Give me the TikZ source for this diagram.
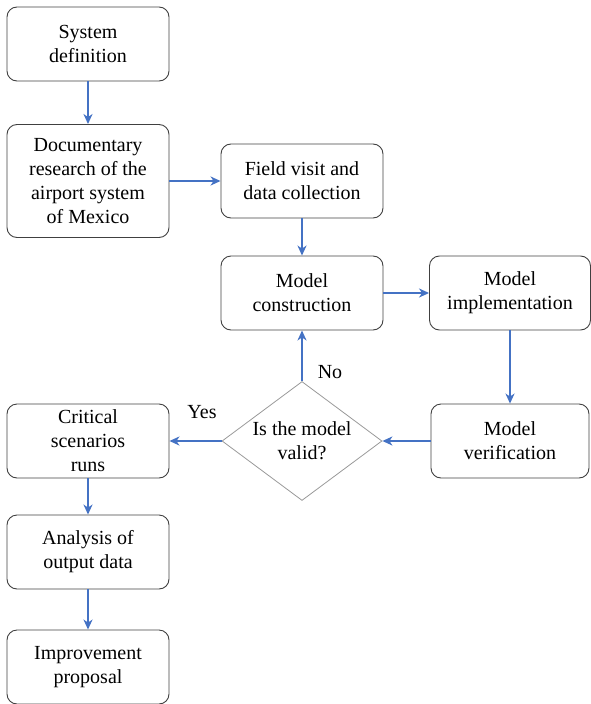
\documentclass[tikz,border=0pt]{standalone}
\usepackage{fontspec}
\setmainfont{Liberation Serif}
\newfontfamily\boxfont{Liberation Serif}
\newcommand{\boxsize}{\boxfont\fontsize{20}{24}\selectfont}
\usetikzlibrary{arrows.meta,positioning,shapes.geometric}
\definecolor{pilblue}{RGB}{68,114,196}
\tikzset{
	%Define standard arrow tip
	>={Stealth[length=10pt,width=9pt,inset=3pt]},
	%Define style for boxes
	mylabel/.style={font=\boxsize},
	punkt/.style={
		rectangle,
		rounded corners=10pt,
		draw=black!75, line width=0.9pt,
		minimum width=162pt,
		minimum height=74pt,
		align=center,
		font=\boxsize},
	raute/.style={
		diamond,
		draw=black!40, line width=0.8pt,
		minimum width=160pt,
		minimum height=119pt,
		inner sep=0pt},
	% Define arrow style
	pil/.style={
		->,
		draw=pilblue,
		line width=1.6pt}
}
\begin{document}
\begin{tikzpicture}[x=1pt,y=-1pt]
	\useasboundingbox (0,0) rectangle (590,704);
	% node System definition
	\node[punkt] (sysdef) at (88,44) {System\\definition};
	% node Documentary research
	\node[punkt, minimum height=113pt] (docres) at (88,181) {Documentary\\research of the\\airport system\\of Mexico};
	% node Field visit
	\node[punkt] (field) at (302,181) {Field visit and\\data collection};
	% node Model construction
	\node[punkt] (constr) at (302,293) {Model\\construction};
	% node Model implementation
	\node[punkt, minimum width=161pt] (impl) at (510,293) {Model\\implementation};
	% node Model verification
	\node[punkt, minimum width=158pt] (verif) at (510,441) {Model\\verification};
	% node Is the model valid?
	\node[raute, label={[mylabel, align=center]center:Is the model\\valid?}] (valid) at (302,441) {};
	% node Critical scenarios runs
	\node[punkt] (crit) at (88,441) {Critical\\scenarios\\runs};
	% node Analysis of output data
	\node[punkt] (anal) at (88,552) {Analysis of\\output data};
	% node Improvement proposal
	\node[punkt] (improv) at (88,667) {Improvement\\proposal};
	% node No / Yes
	\node[mylabel] (no) at (330,372) {No};
	\node[mylabel] (yes) at (202,412) {Yes};
	\draw[pil] (sysdef) -- (docres);
	\draw[pil] (docres) -- (field);
	\draw[pil] (field) -- (constr);
	\draw[pil] (constr) -- (impl);
	\draw[pil] (impl) -- (verif);
	\draw[pil] (verif) -- (valid);
	\draw[pil] (valid.north) -- (constr);
	\draw[pil] (valid.west) -- (crit);
	\draw[pil] (crit) -- (anal);
	\draw[pil] (anal) -- (improv);
\end{tikzpicture}
\end{document}
